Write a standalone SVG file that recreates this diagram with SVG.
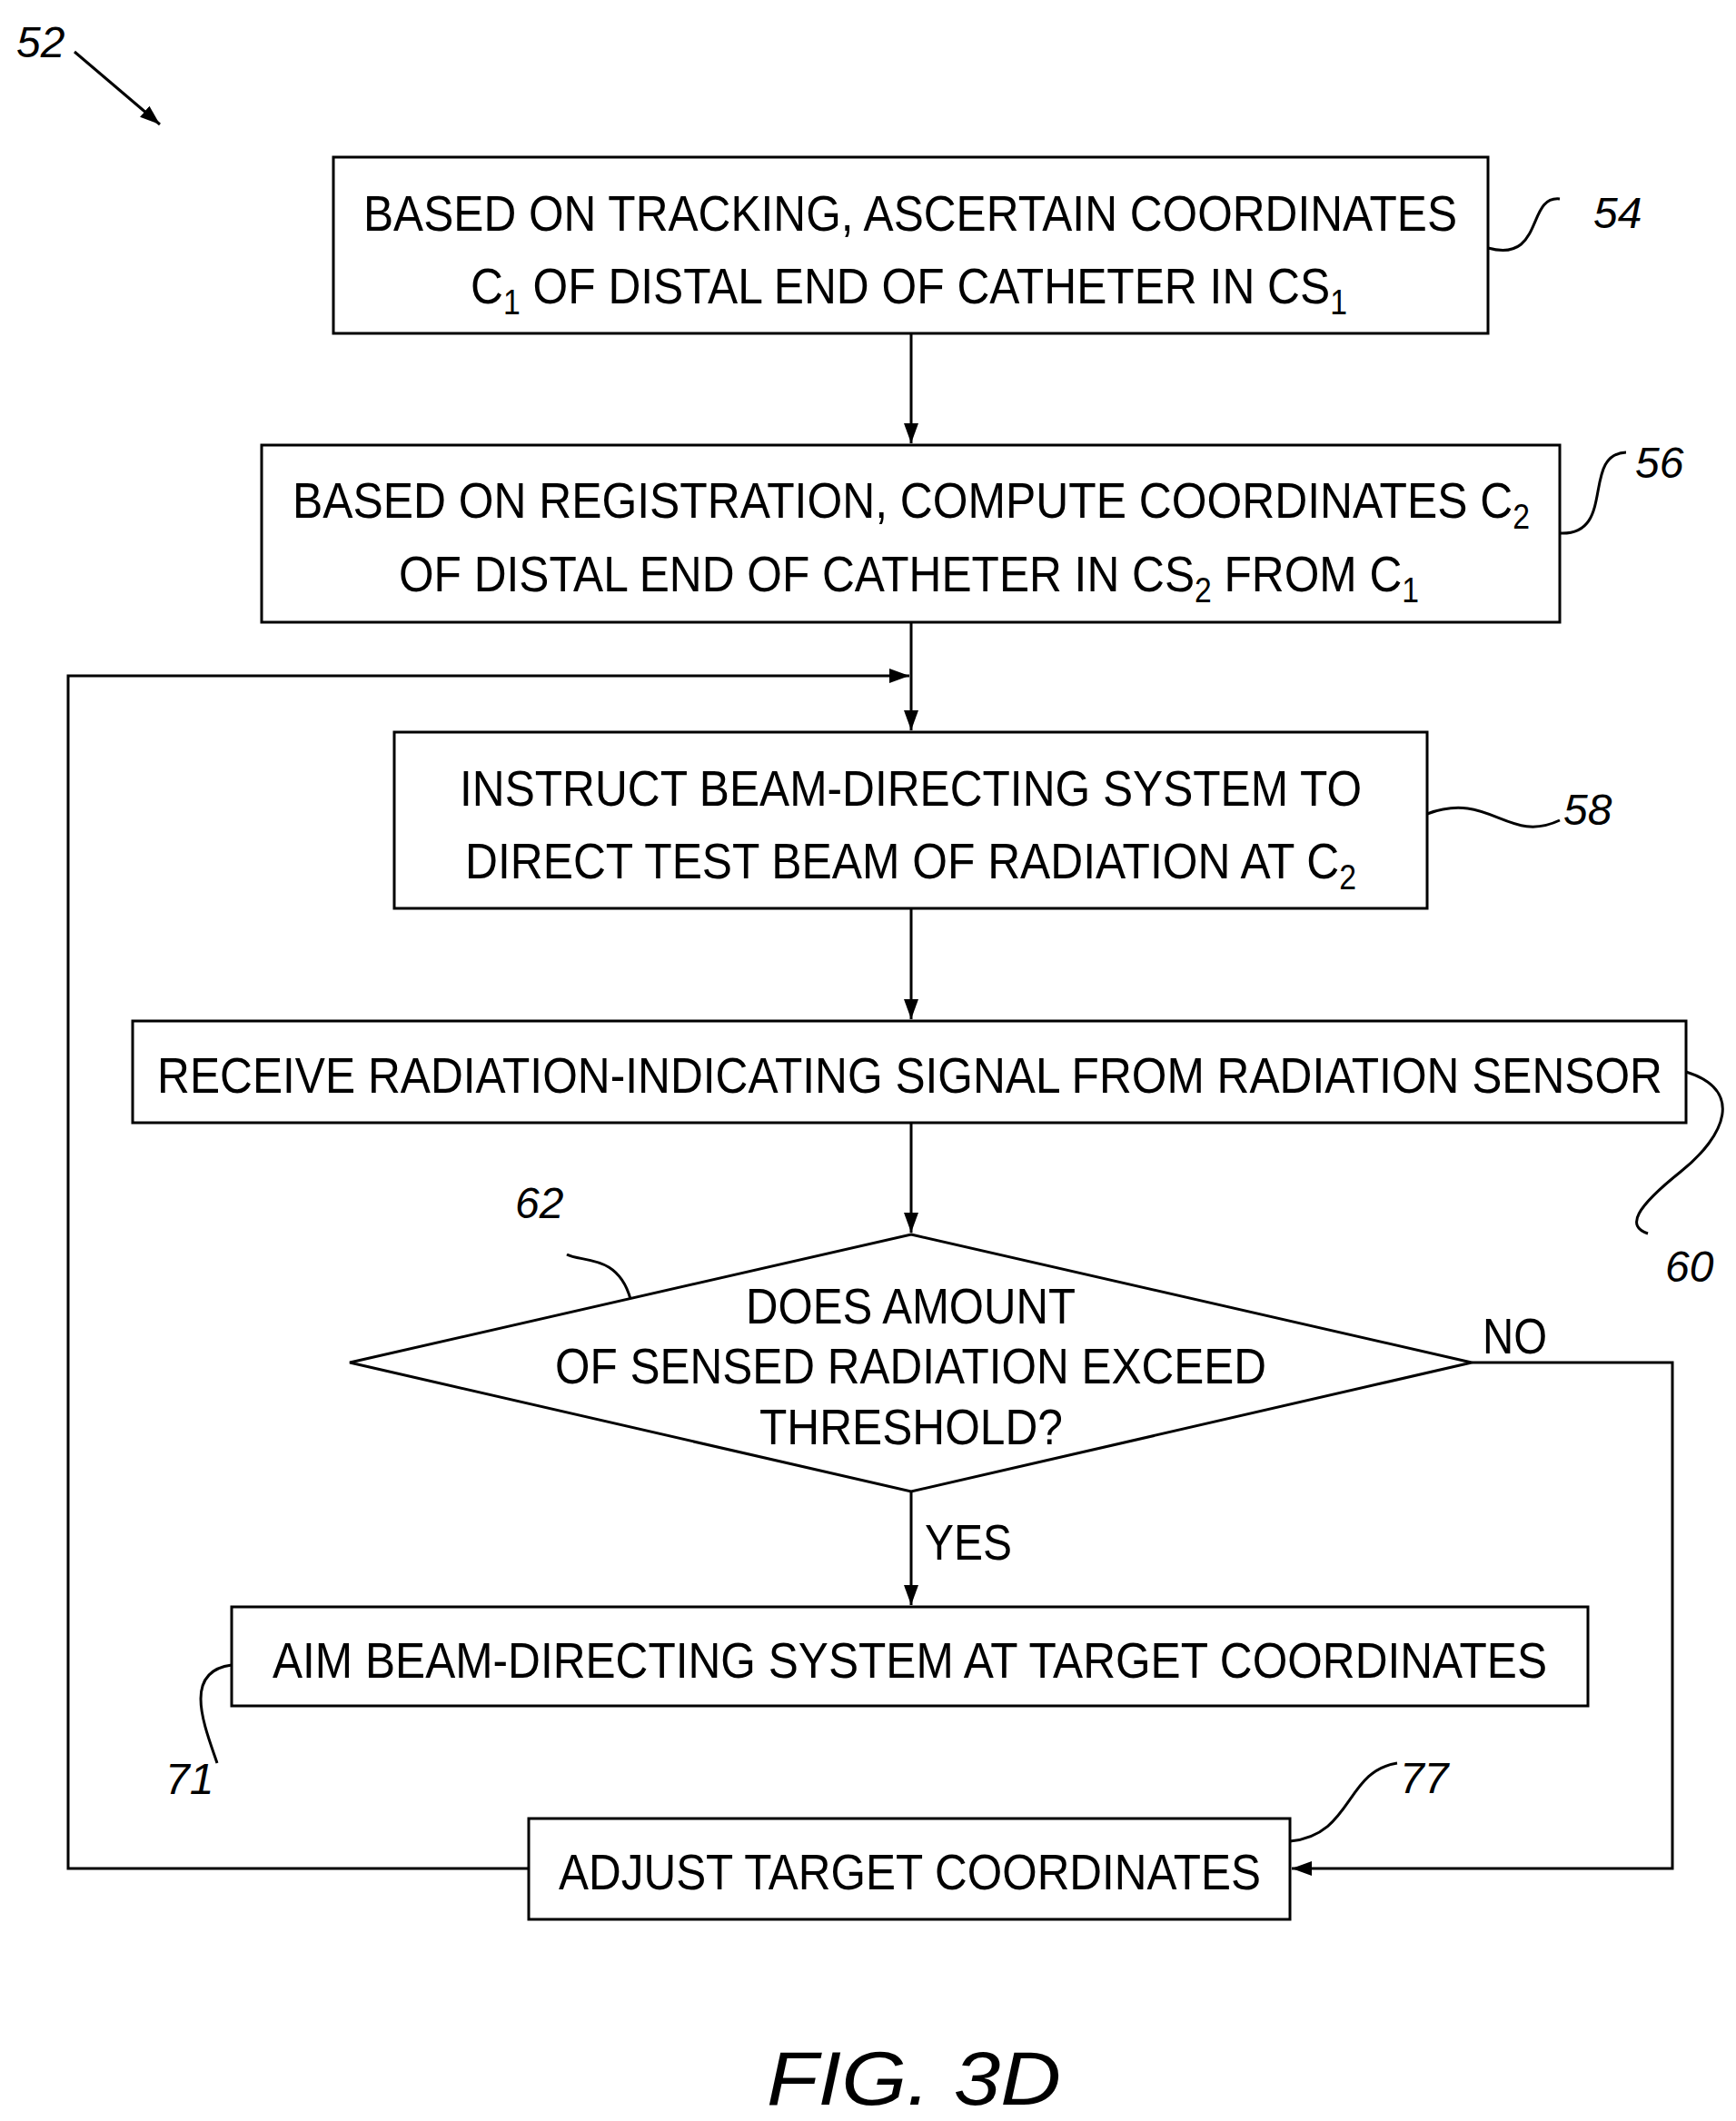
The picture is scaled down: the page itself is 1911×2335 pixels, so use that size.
<svg xmlns="http://www.w3.org/2000/svg" width="1911" height="2335" viewBox="0 0 1911 2335">
<style>
.b{fill:#fff;stroke:#000;stroke-width:3}
.t{font-family:"Liberation Sans Narrow","Liberation Sans",sans-serif;font-size:56px;fill:#000;text-anchor:start}
.r{font-family:"Liberation Sans",sans-serif;font-style:italic;font-size:48px;fill:#000}
.l{fill:none;stroke:#000;stroke-width:3}
.s{font-size:38px}
</style>
<defs><marker id="a2" markerWidth="24" markerHeight="24" refX="22" refY="8" orient="auto" markerUnits="userSpaceOnUse"><path d="M0,0 L22,8 L0,16 Z" fill="#000"/></marker></defs>
<rect width="1911" height="2335" fill="#fff"/>
<g id="connectors">
<path class="l" d="M1003,367V488" marker-end="url(#a2)"/>
<path class="l" d="M1003,685V804" marker-end="url(#a2)"/>
<path class="l" d="M582,2057H75V744H1001" marker-end="url(#a2)"/>
<path class="l" d="M1003,1000V1122" marker-end="url(#a2)"/>
<path class="l" d="M1003,1236V1357" marker-end="url(#a2)"/>
<path class="l" d="M1003,1642V1767" marker-end="url(#a2)"/>
<path class="l" d="M1620,1500H1841V2057H1422" marker-end="url(#a2)"/>
<text class="t" x="1018" y="1717" textLength="96" lengthAdjust="spacingAndGlyphs">YES</text>
<text class="t" x="1632" y="1490" textLength="71" lengthAdjust="spacingAndGlyphs">NO</text>
</g>
<g id="n52"><text class="r" x="18" y="63">52</text><path class="l" d="M82,57L176,137" marker-end="url(#a2)"/></g>
<g id="n54"><rect class="b" x="367" y="173" width="1271" height="194"/>
<text class="t" x="400" y="254" textLength="1204" lengthAdjust="spacingAndGlyphs">BASED ON TRACKING, ASCERTAIN COORDINATES</text>
<text class="t" x="518" y="334" textLength="965" lengthAdjust="spacingAndGlyphs">C<tspan class="s" dy="12">1</tspan><tspan dy="-12"> OF DISTAL END OF CATHETER IN CS</tspan><tspan class="s" dy="12">1</tspan></text>
<path class="l" d="M1638,273C1700,290 1680,215 1717,219"/><text class="r" x="1754" y="251">54</text></g>
<g id="n56"><rect class="b" x="288" y="490" width="1429" height="195"/>
<text class="t" x="322" y="570" textLength="1362" lengthAdjust="spacingAndGlyphs">BASED ON REGISTRATION, COMPUTE COORDINATES C<tspan class="s" dy="12">2</tspan></text>
<text class="t" x="439" y="651" textLength="1123" lengthAdjust="spacingAndGlyphs">OF DISTAL END OF CATHETER IN CS<tspan class="s" dy="12">2</tspan><tspan dy="-12"> FROM C</tspan><tspan class="s" dy="12">1</tspan></text>
<path class="l" d="M1717,587C1780,590 1740,500 1790,498"/><text class="r" x="1800" y="526">56</text></g>
<g id="n58"><rect class="b" x="434" y="806" width="1137" height="194"/>
<text class="t" x="506" y="887" textLength="993" lengthAdjust="spacingAndGlyphs">INSTRUCT BEAM-DIRECTING SYSTEM TO</text>
<text class="t" x="512" y="967" textLength="981" lengthAdjust="spacingAndGlyphs">DIRECT TEST BEAM OF RADIATION AT C<tspan class="s" dy="12">2</tspan></text>
<path class="l" d="M1571,896C1640,870 1660,930 1717,903"/><text class="r" x="1721" y="908">58</text></g>
<g id="n60"><rect class="b" x="146" y="1124" width="1710" height="112"/>
<text class="t" x="173" y="1203" textLength="1657" lengthAdjust="spacingAndGlyphs">RECEIVE RADIATION-INDICATING SIGNAL FROM RADIATION SENSOR</text>
<path class="l" d="M1856,1180C1920,1200 1900,1250 1850,1290C1800,1330 1790,1350 1814,1358"/><text class="r" x="1833" y="1411">60</text></g>
<g id="n62"><polygon class="b" points="1003,1359 1620,1500 1003,1642 385,1500"/>
<text class="t" x="821" y="1457" textLength="363" lengthAdjust="spacingAndGlyphs">DOES AMOUNT</text>
<text class="t" x="611" y="1523" textLength="783" lengthAdjust="spacingAndGlyphs">OF SENSED RADIATION EXCEED</text>
<text class="t" x="836" y="1590" textLength="334" lengthAdjust="spacingAndGlyphs">THRESHOLD?</text>
<path class="l" d="M694,1430C680,1380 640,1390 624,1381"/><text class="r" x="567" y="1341">62</text></g>
<g id="n71"><rect class="b" x="255" y="1769" width="1493" height="109"/>
<text class="t" x="300" y="1847" textLength="1403" lengthAdjust="spacingAndGlyphs">AIM BEAM-DIRECTING SYSTEM AT TARGET COORDINATES</text>
<path class="l" d="M255,1833C200,1840 225,1900 239,1941"/><text class="r" x="182" y="1975">71</text></g>
<g id="n77"><rect class="b" x="582" y="2002" width="838" height="111"/>
<text class="t" x="615" y="2080" textLength="773" lengthAdjust="spacingAndGlyphs">ADJUST TARGET COORDINATES</text>
<path class="l" d="M1420,2027C1490,2020 1480,1950 1538,1941"/><text class="r" x="1541" y="1974">77</text></g>
<text x="844" y="2317" textLength="324" lengthAdjust="spacingAndGlyphs" style="font-family:'Liberation Sans',sans-serif;font-style:italic;font-size:84px">FIG. 3D</text>
</svg>
